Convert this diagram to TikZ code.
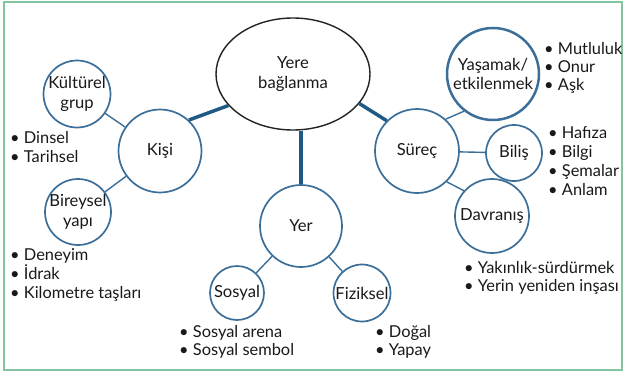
\documentclass[tikz,border=0pt]{standalone}
\usepackage{fontspec}
\setmainfont{Lato}
\usetikzlibrary{shapes.geometric}
\definecolor{frame}{HTML}{82C59F}
\definecolor{bubblue}{HTML}{3B6E98}
\definecolor{hubblue}{HTML}{1F5A85}
\definecolor{ellblack}{HTML}{222222}
\tikzset{
  every node/.style={font=\fontsize{16.4}{19}\selectfont, text=black!90},
  bub/.style={circle, draw=bubblue, line width=1.7pt, fill=white, inner sep=0pt},
  lbl/.style={align=center, inner sep=0pt, font=\fontsize{16.6}{19.5}\selectfont},
  item/.style={anchor=base west, inner sep=0pt},
  thin/.style={draw=bubblue, line width=1.4pt},
  thick/.style={draw=hubblue, line width=3.5pt},
}
\begin{document}
\begin{tikzpicture}[x=1pt,y=-1pt]
\useasboundingbox (0,0) rectangle (624,375);
\draw[frame, line width=1.3pt] (4,2) rectangle (622,370);

% hub
\node[ellipse, draw=ellblack, line width=1.4pt, fill=white, minimum width=154pt, minimum height=112pt, inner sep=0pt,
      label={[lbl]center:Yere\\bağlanma}] (yere) at (293,74) {};

% main bubbles
\node[bub, minimum size=83pt, label={[lbl]center:Kişi}] (kisi) at (160,151) {};
\node[bub, minimum size=82pt, label={[lbl]center:Yer}] (yer) at (301,226) {};
\node[bub, minimum size=84pt, label={[lbl]center:Süreç}] (surec) at (417,151) {};

% sub bubbles
\node[bub, minimum size=67pt, label={[lbl]center:Kültürel\\grup}] (kult) at (77,94) {};
\node[bub, minimum size=66pt, label={[lbl]center:Bireysel\\yapı}] (birey) at (78,212) {};
\node[bub, minimum size=54pt, label={[lbl]center:Sosyal}] (sosyal) at (237,293) {};
\node[bub, minimum size=57pt, label={[lbl]center:Fiziksel}] (fiz) at (362,293) {};
\node[bub, line width=2.5pt, minimum size=92pt, label={[lbl]center:Yaşamak/\\etkilenmek}] (yasam) at (493,74) {};
\node[bub, minimum size=56pt, label={[lbl]center:Biliş}] (bilis) at (514,153) {};
\node[bub, minimum size=74pt, label={[lbl]center:Davranış}] (davr) at (492,216) {};

% thick connectors
\draw[thick] (yere.206) -- (kisi.47);
\draw[thick] (yer.north) -- (yer.north |- yere.south);
\draw[thick] (yere.336) -- (surec.135);

% thin connectors
\draw[thin] (kisi) -- (kult);
\draw[thin] (kisi) -- (birey);
\draw[thin] (yer) -- (sosyal);
\draw[thin] (yer) -- (fiz);
\draw[thin] (surec.48) -- (yasam.232);
\draw[thin] (surec) -- (bilis);
\draw[thin] (surec.314) -- (davr.138);

% bullet lists
\node[item] (l1) at (10,143) {• Dinsel};
\node[item] (l2) at (10,162) {• Tarihsel};
\node[item] (l3) at (10,260) {• Deneyim};
\node[item] (l4) at (10,279) {• İdrak};
\node[item] (l5) at (10,298) {• Kilometre taşları};
\node[item] (l6) at (179,337) {• Sosyal arena};
\node[item] (l7) at (179,355) {• Sosyal sembol};
\node[item] (l8) at (375,337) {• Doğal};
\node[item] (l9) at (375,355) {• Yapay};
\node[item] (l10) at (464,273) {• Yakınlık-sürdürmek};
\node[item] (l11) at (464,291) {• Yerin yeniden inşası};
\node[item] (l12) at (544,54) {• Mutluluk};
\node[item] (l13) at (544,72) {• Onur};
\node[item] (l14) at (544,90) {• Aşk};
\node[item] (l15) at (548,138) {• Hafıza};
\node[item] (l16) at (548,157) {• Bilgi};
\node[item] (l17) at (548,176) {• Şemalar};
\node[item] (l18) at (548,195) {• Anlam};
\end{tikzpicture}
\end{document}
